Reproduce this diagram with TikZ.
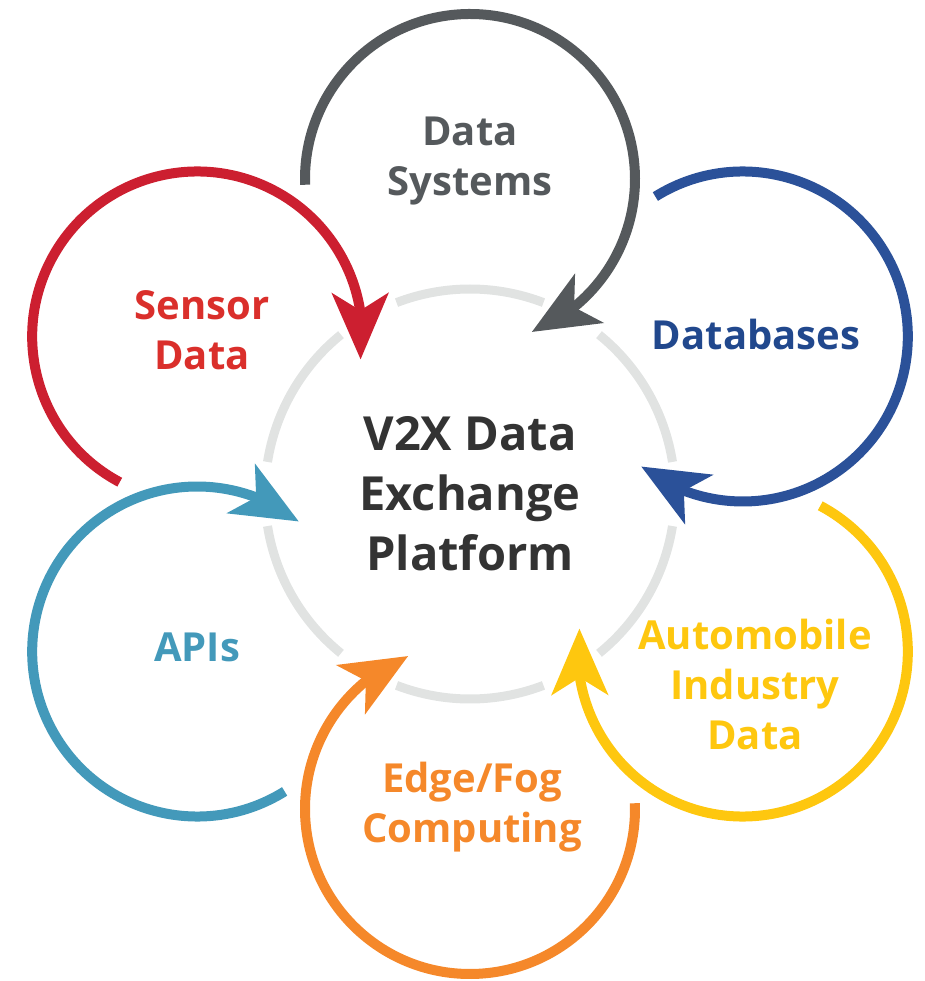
\documentclass[tikz,border=0pt]{standalone}
\usepackage{fontspec}
\setmainfont{Open Sans}
\usetikzlibrary{arrows.meta,bending}

\definecolor{dsgray}{HTML}{55595C}
\definecolor{dbblue}{HTML}{2B5199}
\definecolor{dbtext}{HTML}{21488D}
\definecolor{auyellow}{HTML}{FEC70F}
\definecolor{eforange}{HTML}{F5882A}
\definecolor{apteal}{HTML}{4399BA}
\definecolor{sdred}{HTML}{CC1F30}
\definecolor{sdtext}{HTML}{DA2F2B}
\definecolor{hubgray}{HTML}{E1E3E2}
\definecolor{hubtext}{HTML}{333333}

\begin{document}
\begin{tikzpicture}[x=1pt,y=1pt,
    flow/.style={line width=10pt,-{Stealth[length=66pt,width=56pt,inset=17pt,flex]}},
    hub/.style={line width=9pt,draw=hubgray},
    ringtext/.style={font=\bfseries\fontsize{40}{50}\selectfont,align=center},
    hubtext/.style={font=\bfseries\fontsize{47}{60}\selectfont,align=center,text=hubtext}]
  \useasboundingbox (-470,-487) rectangle (454,494);
  % centres of the six source circles
  \draw
    (0:0) coordinate (hub)
    (90:315) coordinate (ds)
    (30:315) coordinate (db)
    (-30:315) coordinate (au)
    (-90:315) coordinate (ef)
    (-150:315) coordinate (ap)
    (150:315) coordinate (sd);
  % exchange ring, open where the arrows come in
  \draw[hub] (hub) ++(9:205) arc[start angle=9,end angle=51,radius=205];
  \draw[hub] (hub) ++(69:205) arc[start angle=69,end angle=111,radius=205];
  \draw[hub] (hub) ++(129:205) arc[start angle=129,end angle=171,radius=205];
  \draw[hub] (hub) ++(189:205) arc[start angle=189,end angle=231,radius=205];
  \draw[hub] (hub) ++(249:205) arc[start angle=249,end angle=291,radius=205];
  \draw[hub] (hub) ++(309:205) arc[start angle=309,end angle=351,radius=205];
  \node[hubtext] (platform) at (0,0) {V2X Data\\Exchange\\Platform};
  % source loops
  \begin{scope}[flow]
    \draw[color=dsgray] (ds) ++(182:165) arc[start angle=182,delta angle=-250,radius=165];
    \draw[color=dbblue] (db) ++(122:165) arc[start angle=122,delta angle=-250,radius=165];
    \draw[color=auyellow] (au) ++(62:165) arc[start angle=62,delta angle=-250,radius=165];
    \draw[color=eforange] (ef) ++(2:165) arc[start angle=2,delta angle=-250,radius=165];
    \draw[color=apteal] (ap) ++(-58:165) arc[start angle=-58,delta angle=-250,radius=165];
    \draw[color=sdred] (sd) ++(242:165) arc[start angle=242,delta angle=-250,radius=165];
  \end{scope}
  \node[ringtext,text=dsgray] (dslabel) at (0,333) {Data\\Systems};
  \node[ringtext,text=dbtext] (dblabel) at (286,159) {Databases};
  \node[ringtext,text=auyellow] (aulabel) at (285,-190) {Automobile\\Industry\\Data};
  \node[ringtext,text=eforange] (eflabel) at (2,-313) {Edge/Fog\\Computing};
  \node[ringtext,text=apteal] (aplabel) at (-273,-153) {APIs};
  \node[ringtext,text=sdtext] (sdlabel) at (-268,164) {Sensor\\Data};
\end{tikzpicture}
\end{document}
